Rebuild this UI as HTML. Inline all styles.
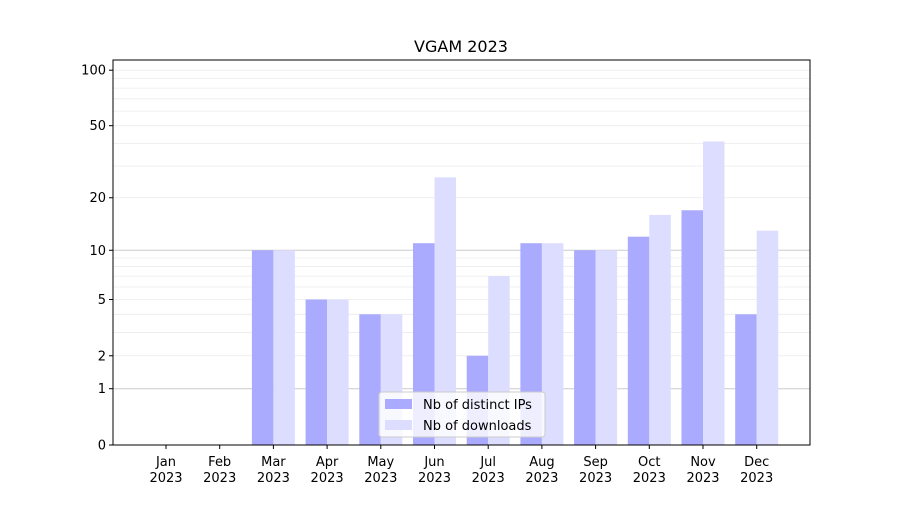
<!DOCTYPE html>
<html><head><meta charset="utf-8"><style>
body{margin:0;background:#fff;font-family:"Liberation Sans","DejaVu Sans",sans-serif;}
svg text{font-family:"DejaVu Sans","Liberation Sans",sans-serif;}
</style></head><body>
<svg id="chart" width="900" height="500" xmlns="http://www.w3.org/2000/svg">
<text x="461" y="52" font-size="16" text-anchor="middle">VGAM 2023</text>
<g id="grid"></g><g id="bars"></g><g id="axes"></g>
</svg>
<script>
const categories=["Jan","Feb","Mar","Apr","May","Jun","Jul","Aug","Sep","Oct","Nov","Dec"];
const ipValues=[0,0,10,5,4,11,2,11,10,12,17,4];
const downloadValues=[0,0,10,5,4,26,7,11,10,16,41,13];
const yTicks=[0,1,2,5,10,20,50,100];
const NS="http://www.w3.org/2000/svg";
const L=113,R=810,T=60,B=445;
function yS(v){return B-187*Math.log10(1+v);}
function xC(i){return 166+i*53.7;}
function mk(p,tag,a){const e=document.createElementNS(NS,tag);for(const k in a)e.setAttribute(k,a[k]);p.appendChild(e);return e;}
const grid=document.getElementById('grid'),bars=document.getElementById('bars'),axes=document.getElementById('axes');
const minors=[];for(let d=1;d<=10;d*=10)for(let m=2;m<=9;m++)minors.push(m*d);minors.push(100);
minors.forEach(v=>{const l=mk(grid,'line',{x1:L,x2:R,y1:yS(v),y2:yS(v),stroke:'#ebebeb','stroke-width':0.8});

});
[1,10].forEach(v=>{const l=mk(grid,'line',{x1:L,x2:R,y1:yS(v),y2:yS(v),stroke:'#cccccc','stroke-width':1});

});
const bw=21.5;
categories.forEach((c,i)=>{
 const x=xC(i);
 const a=mk(bars,'rect',{x:x-bw,y:yS(ipValues[i]),width:bw,height:B-yS(ipValues[i]),fill:'#aaaaff'});
 
 
 const b=mk(bars,'rect',{x:x,y:yS(downloadValues[i]),width:bw,height:B-yS(downloadValues[i]),fill:'#ddddff'});
 
 
 mk(axes,'line',{x1:x,x2:x,y1:B,y2:B+4,stroke:'#000'});
 const t=mk(axes,'text',{x:x,y:466,'font-size':13,'text-anchor':'middle'});t.textContent=c;
 
 
 const t2=mk(axes,'text',{x:x,y:482,'font-size':13,'text-anchor':'middle'});t2.textContent='2023';
 
 
});
yTicks.forEach(v=>{const y=yS(v);mk(axes,'line',{x1:L-4,x2:L,y1:y,y2:y,stroke:'#000'});
 const t=mk(axes,'text',{x:L-7,y:y+4.5,'font-size':13,'text-anchor':'end'});t.textContent=v;
 
 });
const f=mk(axes,'rect',{x:L,y:T,width:R-L,height:B-T,fill:'none',stroke:'#000','stroke-width':1});


const lg=mk(axes,'g',{});


mk(lg,'rect',{x:379,y:392,width:166,height:45,fill:'#fff','fill-opacity':0.8,stroke:'#ccc',rx:3});
mk(lg,'rect',{x:385,y:399,width:27,height:10,fill:'#aaaaff'});
mk(lg,'rect',{x:385,y:420,width:27,height:10,fill:'#ddddff'});
const l1=mk(lg,'text',{x:423,y:409,'font-size':13});l1.textContent='Nb of distinct IPs';
const l2=mk(lg,'text',{x:423,y:430,'font-size':13});l2.textContent='Nb of downloads';
</script>
</body></html>
